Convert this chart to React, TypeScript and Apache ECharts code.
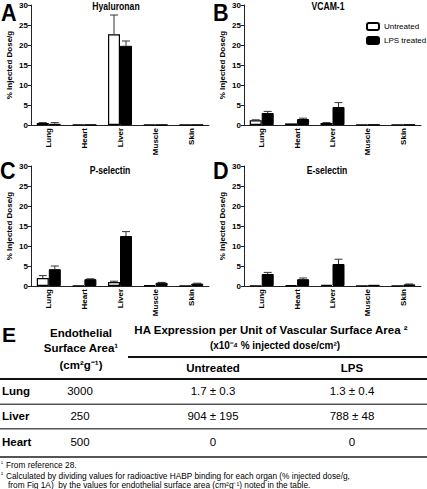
import React, { useEffect, useRef } from "react";
import * as echarts from "echarts";

const categories = ["Lung", "Heart", "Liver", "Muscle", "Skin"];

// Panel A – Hyaluronan
const hyaUntreated = [0.5, 0.1, 22.7, 0.1, 0.1];
const hyaUntreatedErr = [0.1, 0, 4.8, 0, 0];
const hyaLps = [0.3, 0.05, 19.8, 0.03, 0.03];
const hyaLpsErr = [0.3, 0, 1.2, 0, 0];

// Panel B – VCAM-1
const vcamUntreated = [1.2, 0.4, 0.5, 0.1, 0.1];
const vcamUntreatedErr = [0.1, 0, 0.1, 0, 0];
const vcamLps = [3.0, 1.5, 4.5, 0.1, 0.1];
const vcamLpsErr = [0.4, 0.2, 1.1, 0, 0];

// Panel C – P-selectin
const pselUntreated = [2.0, 0.1, 1.0, 0.2, 0.1];
const pselUntreatedErr = [0.6, 0, 0.2, 0, 0];
const pselLps = [4.2, 1.7, 12.5, 0.8, 0.6];
const pselLpsErr = [0.8, 0.1, 1.1, 0.1, 0.1];

// Panel D – E-selectin
const eselUntreated = [0.1, 0.2, 0.3, 0.1, 0.1];
const eselUntreatedErr = [0, 0, 0, 0, 0];
const eselLps = [3.0, 1.7, 5.5, 0.3, 0.4];
const eselLpsErr = [0.4, 0.3, 1.2, 0, 0.1];

const panelTitles = ["Hyaluronan", "VCAM-1", "P-selectin", "E-selectin"];
const panelLetters = ["A", "B", "C", "D"];
const seriesNames = ["Untreated", "LPS treated"];
const yAxisName = "% Injected Dose/g";

// Table E
const tableOrgans = ["Lung", "Liver", "Heart"];
const surfaceArea = ["3000", "250", "500"];
const haUntreated = ["1.7 ± 0.3", "904 ± 195", "0"];
const haLps = ["1.3 ± 0.4", "788 ± 48", "0"];
const footnote1 = "From reference 28.";
const footnote2a = "Calculated by dividing values for radioactive HABP binding for each organ (% injected dose/g,";
const footnote2b = "from Fig 1A)  by the values for endothelial surface area (cm²g⁻¹) noted in the table.";

const SANS = "Arial, Liberation Sans, sans-serif";

const grids = [
  { left: 31, top: 5, width: 178, height: 120 },
  { left: 244, top: 5, width: 177, height: 120 },
  { left: 31, top: 166, width: 178, height: 120 },
  { left: 244, top: 166, width: 177, height: 120 },
];
const titlePos = [
  [116, 6],
  [328, 6],
  [110, 170],
  [327, 170],
];
const letterPos = [
  [1, 12.5],
  [213, 12.5],
  [0, 171],
  [213, 171],
];

const panelData = [
  [hyaUntreated, hyaUntreatedErr, hyaLps, hyaLpsErr],
  [vcamUntreated, vcamUntreatedErr, vcamLps, vcamLpsErr],
  [pselUntreated, pselUntreatedErr, pselLps, pselLpsErr],
  [eselUntreated, eselUntreatedErr, eselLps, eselLpsErr],
];

function errSeries(vals: number[], errs: number[], offset: number, gi: number) {
  return {
    type: "custom",
    xAxisIndex: gi,
    yAxisIndex: gi,
    silent: true,
    z: 1,
    data: vals.map((v, i) => [i, v, errs[i]]),
    renderItem: (_p: any, api: any) => {
      const i = api.value(0);
      const v = api.value(1);
      const e = api.value(2);
      if (!e) return { type: "group", children: [] };
      const base = api.coord([i, v]);
      const top = api.coord([i, v + e]);
      const x = base[0] + offset;
      return {
        type: "group",
        children: [
          { type: "line", shape: { x1: x, y1: base[1], x2: x, y2: top[1] }, style: { stroke: "#333", lineWidth: 1 } },
          { type: "line", shape: { x1: x - 4, y1: top[1], x2: x + 4, y2: top[1] }, style: { stroke: "#333", lineWidth: 1 } },
        ],
      };
    },
  };
}

function buildTable(): any[] {
  const els: any[] = [];
  const txt = (text: string, x: number, y: number, size: number, weight: string, align = "center") => ({
    type: "text",
    x,
    y,
    style: {
      text,
      fill: "#000",
      fontFamily: SANS,
      fontSize: size,
      fontWeight: weight,
      textAlign: align,
      textVerticalAlign: "middle",
    },
  });
  els.push(txt("E", 2, 334, 21, "bold", "left"));
  els.push(txt("Endothelial", 81, 333, 11.5, "bold"));
  els.push(txt("Surface Area¹", 81, 348, 11.5, "bold"));
  els.push(txt("(cm²g⁻¹)", 81, 365, 11.5, "bold"));
  els.push(txt("HA Expression per Unit of Vascular Surface Area ²", 271, 330, 11.5, "bold"));
  els.push(txt("(x10⁻⁴ % injected dose/cm²)", 275, 345, 10, "bold"));
  els.push({ type: "rect", shape: { x: 128, y: 356, width: 299, height: 2 }, style: { fill: "#111" } });
  els.push(txt("Untreated", 213, 368, 11.5, "bold"));
  els.push(txt("LPS", 352, 368, 11.5, "bold"));
  els.push({ type: "rect", shape: { x: 0, y: 378, width: 427, height: 2 }, style: { fill: "#111" } });
  const rowY = [391, 416, 442];
  const lineY = [403.5, 428, 456];
  tableOrgans.forEach((o, i) => {
    els.push(txt(o, 2, rowY[i], 11.5, "bold", "left"));
    els.push(txt(surfaceArea[i], 80, rowY[i], 11.5, "normal"));
    els.push(txt(haUntreated[i], 213, rowY[i], 11.5, "normal"));
    els.push(txt(haLps[i], 352, rowY[i], 11.5, "normal"));
    els.push({
      type: "rect",
      shape: { x: 0, y: lineY[i], width: 427, height: i === 2 ? 2 : 1.5 },
      style: { fill: "#555" },
    });
  });
  els.push(txt("¹", 1, 463, 6, "normal", "left"));
  els.push(txt(footnote1, 6, 465, 8.3, "normal", "left"));
  els.push(txt("²", 1, 474, 6, "normal", "left"));
  els.push(txt(footnote2a, 6, 476, 8.3, "normal", "left"));
  els.push(txt(footnote2b, 8, 485, 8.3, "normal", "left"));
  return els;
}

export default function App() {
  const ref = useRef<HTMLDivElement>(null);
  useEffect(() => {
    if (!ref.current) return;
    const chart = echarts.init(ref.current, undefined, { renderer: "svg" });
    const series: any[] = [];
    panelData.forEach((pd, gi) => {
      series.push({
        type: "bar",
        name: seriesNames[0],
        xAxisIndex: gi,
        yAxisIndex: gi,
        data: pd[0],
        barWidth: 12,
        barGap: "0%",
        z: 2,
        itemStyle: { color: "#fff", borderColor: "#000", borderWidth: 1.2 },
      });
      series.push({
        type: "bar",
        name: seriesNames[1],
        xAxisIndex: gi,
        yAxisIndex: gi,
        data: pd[2],
        barWidth: 12,
        barGap: "0%",
        z: 2,
        itemStyle: { color: "#000", borderColor: "#000", borderWidth: 1 },
      });
      series.push(errSeries(pd[0], pd[1], -6, gi));
      series.push(errSeries(pd[2], pd[3], 6, gi));
    });
    const graphics: any[] = [];
    grids.forEach((_g, gi) => {
      graphics.push({
        type: "text",
        x: letterPos[gi][0],
        y: letterPos[gi][1],
        scaleX: 0.9,
        style: {
          text: panelLetters[gi],
          fill: "#000",
          fontFamily: SANS,
          fontSize: 24,
          fontWeight: "bold",
          textAlign: "left",
          textVerticalAlign: "middle",
        },
      });
      graphics.push({
        type: "text",
        x: titlePos[gi][0],
        y: titlePos[gi][1],
        scaleX: 0.82,
        style: {
          text: panelTitles[gi],
          fill: "#000",
          fontFamily: SANS,
          fontSize: 10.5,
          fontWeight: "bold",
          textAlign: "center",
          textVerticalAlign: "middle",
        },
      });
    });
    const option: any = {
      animation: false,
      backgroundColor: "#fff",
      textStyle: { fontFamily: SANS },
      legend: {
        data: seriesNames,
        orient: "vertical",
        left: 366,
        top: 22,
        padding: 0,
        itemWidth: 12,
        itemHeight: 7,
        itemGap: 5,
        selectedMode: false,
        textStyle: { fontSize: 8, fontFamily: SANS, color: "#000" },
      },
      grid: grids.map((g) => ({ ...g, containLabel: false })),
      xAxis: grids.map((_, gi) => ({
        type: "category",
        gridIndex: gi,
        data: categories,
        axisLine: { lineStyle: { color: "#222", width: 1 } },
        axisTick: { show: false },
        axisLabel: {
          rotate: 90,
          margin: 3,
          interval: 0,
          fontSize: 8,
          fontWeight: "bold",
          fontFamily: SANS,
          color: "#000",
        },
      })),
      yAxis: grids.map((_, gi) => ({
        type: "value",
        gridIndex: gi,
        min: 0,
        max: 30,
        interval: 5,
        splitLine: { show: false },
        axisLine: { show: true, lineStyle: { color: "#222", width: 1 } },
        axisTick: { show: true, length: 3, lineStyle: { color: "#222" } },
        axisLabel: { fontSize: 8, fontWeight: "bold", fontFamily: SANS, color: "#000", margin: 3 },
        name: yAxisName,
        nameLocation: "middle",
        nameGap: 18,
        nameTextStyle: { fontSize: 8, fontWeight: "bold", fontFamily: SANS, color: "#000" },
      })),
      series,
      graphic: [...graphics, ...buildTable()],
    };
    chart.setOption(option);
    return () => chart.dispose();
  }, []);
  return (
    <div
      ref={ref}
      style={{ position: "absolute", left: 0, top: 0, width: 427, height: 489, background: "#fff" }}
    />
  );
}
